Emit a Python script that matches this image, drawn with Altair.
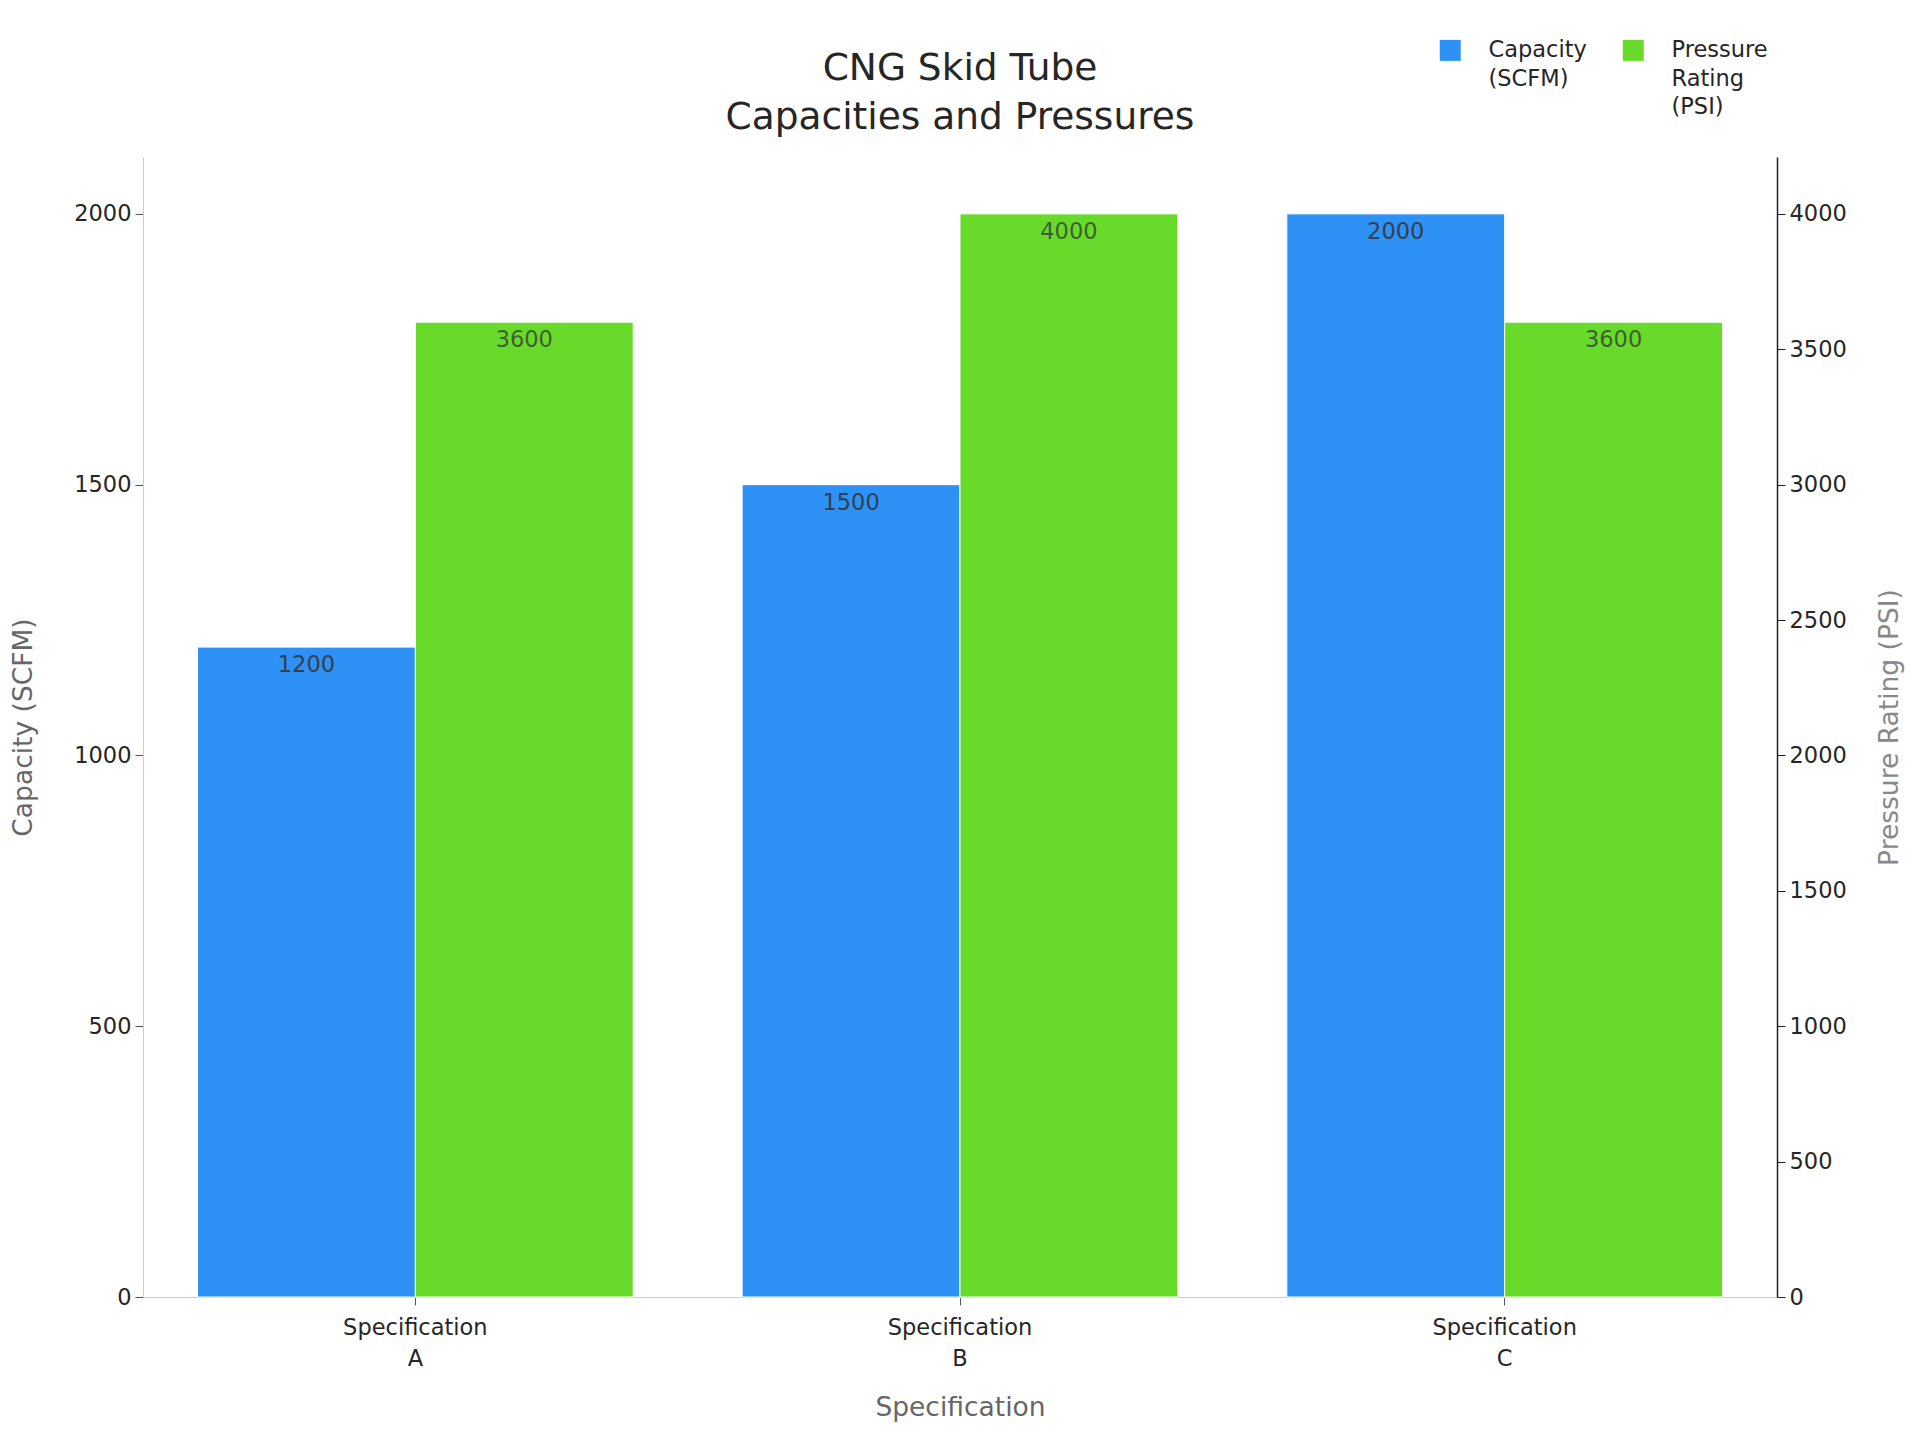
import altair as alt
import pandas as pd

specs = ["Specification A", "Specification B", "Specification C"]
capacity = [1200, 1500, 2000]
pressure = [3600, 4000, 3600]
series_names = ["Capacity (SCFM)", "Pressure Rating (PSI)"]
colors = ["#2E91F5", "#68DB2A"]

cap_df = pd.DataFrame({"spec": specs, "value": capacity, "series": series_names[0]})
pre_df = pd.DataFrame({"spec": specs, "value": pressure, "series": series_names[1]})

FONT = "DejaVu Sans"

x_enc = alt.X(
    "spec:N",
    title="Specification",
    sort=specs,
    scale=alt.Scale(paddingInner=0.2, paddingOuter=0.1),
    axis=alt.Axis(
        labelAngle=0,
        labelExpr="split(datum.label, ' ')",
        labelFontSize=22.5,
        labelColor="#262626",
        labelLineHeight=31,
        labelPadding=11,
        titleFontSize=26.5,
        titleColor="#666666",
        titleFontWeight="normal",
        titlePadding=25,
        domainColor="#cccccc",
        tickColor="#555555",
        tickSize=8,
    ),
)
xoff = alt.XOffset("series:N", sort=series_names, scale=alt.Scale(domain=series_names))
color_enc = alt.Color(
    "series:N",
    scale=alt.Scale(domain=series_names, range=colors),
    legend=alt.Legend(
        title=None,
        orient="none",
        legendX=1296,
        legendY=-118,
        direction="horizontal",
        symbolType="square",
        symbolSize=440,
        symbolStrokeWidth=0,
        labelFontSize=22.5,
        labelColor="#262626",
        labelExpr="datum.label == 'Capacity (SCFM)' ? ['Capacity', '(SCFM)', ' '] : ['Pressure', 'Rating', '(PSI)']",
        labelOffset=27,
        columnPadding=35,
        labelLimit=300,
    ),
)

cap_scale = alt.Scale(domain=[0, 2105])
pre_scale = alt.Scale(domain=[0, 4210])

cap_bar = alt.Chart(cap_df).mark_bar(stroke="white", strokeWidth=1).encode(
    x=x_enc,
    xOffset=xoff,
    y=alt.Y(
        "value:Q",
        scale=cap_scale,
        title="Capacity (SCFM)",
        axis=alt.Axis(
            values=[0, 500, 1000, 1500, 2000],
            format="d",
            grid=False,
            labelFontSize=22.5,
            labelColor="#262626",
            titleFontSize=26.5,
            titleColor="#666666",
            titleFontWeight="normal",
            titlePadding=36,
            domainColor="#cccccc",
            tickColor="#555555",
            tickSize=8,
            labelPadding=4,
        ),
    ),
    color=color_enc,
)
cap_text = alt.Chart(cap_df).mark_text(
    baseline="top", dy=7, fontSize=22.5, color="#333333", opacity=0.85, font=FONT
).encode(
    x=alt.X("spec:N", sort=specs),
    xOffset=xoff,
    y=alt.Y("value:Q", scale=cap_scale),
    text=alt.Text("value:Q"),
)

pre_bar = alt.Chart(pre_df).mark_bar(stroke="white", strokeWidth=1).encode(
    x=x_enc,
    xOffset=xoff,
    y=alt.Y(
        "value:Q",
        scale=pre_scale,
        title="Pressure Rating (PSI)",
        axis=alt.Axis(
            orient="right",
            values=[0, 500, 1000, 1500, 2000, 2500, 3000, 3500, 4000],
            format="d",
            grid=False,
            labelFontSize=22.5,
            labelColor="#262626",
            titleFontSize=26.5,
            titleColor="#888888",
            titleFontWeight="normal",
            titleAngle=270,
            titleBaseline="top",
            titlePadding=30,
            domainColor="#222222",
            domainWidth=1.5,
            tickColor="#222222",
            tickSize=8,
            labelPadding=4,
        ),
    ),
    color=color_enc,
)
pre_text = alt.Chart(pre_df).mark_text(
    baseline="top", dy=7, fontSize=22.5, color="#333333", opacity=0.75, font=FONT
).encode(
    x=alt.X("spec:N", sort=specs),
    xOffset=xoff,
    y=alt.Y("value:Q", scale=pre_scale),
    text=alt.Text("value:Q"),
)

left = alt.layer(cap_bar, cap_text)
right = alt.layer(pre_bar, pre_text)

chart = (
    alt.layer(left, right)
    .resolve_scale(y="independent")
    .properties(
        width=1634,
        height=1140,
        title=alt.TitleParams(
            text=["CNG Skid Tube", "Capacities and Pressures"],
            fontSize=37.5,
            font=FONT,
            fontWeight="normal",
            color="#262626",
            anchor="middle",
            frame="group",
            lineHeight=49,
            offset=24,
            dy=121,
        ),
        autosize=alt.AutoSizeParams(type="none"),
        padding={"left": 143, "top": 157, "right": 143, "bottom": 143},
    )
    .configure(font=FONT, style={"guide-label": {"lineHeight": 28.5}})
    .configure_view(stroke=None)
    .configure_axis(labelFont=FONT, titleFont=FONT)
    .configure_legend(labelFont=FONT)
)

chart.save("out.html", embed_options={"renderer": "svg", "actions": False})
